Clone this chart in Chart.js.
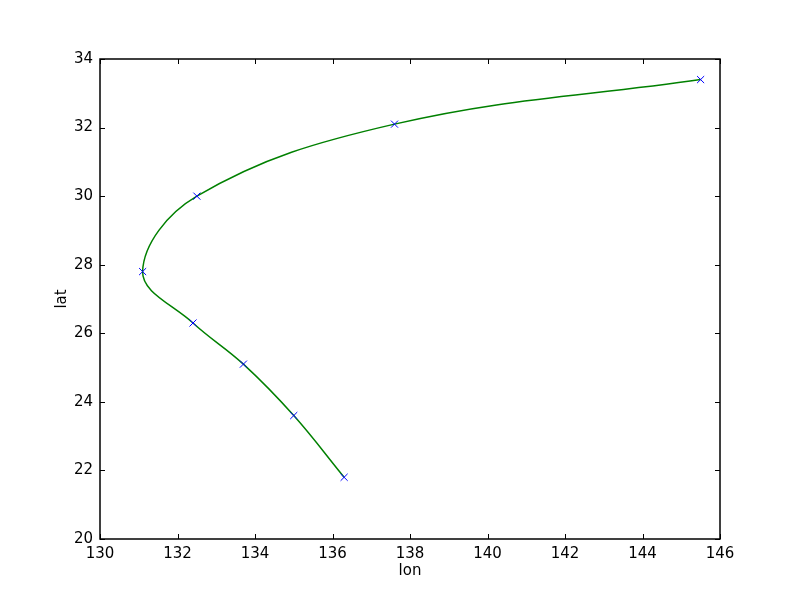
<!DOCTYPE html>
<html lang="en">
<head>
    <meta charset="UTF-8">
    <title>lat / lon track</title>
    <script src="https://cdn.jsdelivr.net/npm/chart.js"></script>
    <style>
        body {
            margin: 0;
            background: #ffffff;
        }
        canvas {
            display: block;
        }
    </style>
</head>
<body>
<canvas id="trackChart" width="800" height="600"></canvas>

<script>
  // track points
  const lon = [136.3, 135.0, 133.7, 132.4, 131.1, 132.5, 137.6, 145.5];
  const lat = [21.8, 23.6, 25.1, 26.3, 27.8, 30.0, 32.1, 33.4];

  const xTicks = [130, 132, 134, 136, 138, 140, 142, 144, 146];
  const yTicks = [20, 22, 24, 26, 28, 30, 32, 34];

  const points = lon.map((x, i) => ({ x: x, y: lat[i] }));
  const font = { family: 'DejaVu Sans', size: 15 };

  // matplotlib style frame with inward ticks on all four sides
  const frameTicks = {
    id: 'frameTicks',
    afterDraw(chart) {
      const ctx = chart.ctx;
      const a = chart.chartArea;
      const xs = chart.scales.x;
      const ys = chart.scales.y;
      const len = 5;
      ctx.save();
      ctx.strokeStyle = '#000000';
      ctx.lineWidth = 1;
      ctx.beginPath();
      xTicks.forEach(v => {
        const px = Math.round(xs.getPixelForValue(v)) + 0.5;
        ctx.moveTo(px, a.bottom);
        ctx.lineTo(px, a.bottom - len);
        ctx.moveTo(px, a.top);
        ctx.lineTo(px, a.top + len);
      });
      yTicks.forEach(v => {
        const py = Math.round(ys.getPixelForValue(v)) + 0.5;
        ctx.moveTo(a.left, py);
        ctx.lineTo(a.left + len, py);
        ctx.moveTo(a.right, py);
        ctx.lineTo(a.right - len, py);
      });
      ctx.stroke();
      ctx.lineWidth = 1.5;
      ctx.strokeRect(a.left, a.top, a.right - a.left, a.bottom - a.top);
      ctx.restore();
    }
  };

  new Chart(document.getElementById('trackChart'), {
    type: 'scatter',
    data: {
      datasets: [{
        label: 'track',
        data: points,
        showLine: true,
        borderColor: '#008000',
        borderWidth: 1.5,
        tension: 0.38,
        pointRadius: 0,
        order: 2
      }, {
        label: 'points',
        data: points,
        showLine: false,
        pointStyle: 'crossRot',
        pointRadius: 5,
        pointBorderColor: '#0000ff',
        pointBorderWidth: 1,
        order: 1
      }]
    },
    options: {
      responsive: false,
      animation: false,
      layout: {
        padding: { top: 59, right: 80, left: 0, bottom: 0 }
      },
      plugins: {
        legend: { display: false },
        tooltip: { enabled: false }
      },
      scales: {
        x: {
          type: 'linear',
          min: 130,
          max: 146,
          afterFit: s => { s.height = 61; },
          afterBuildTicks: s => { s.ticks = xTicks.map(v => ({ value: v })); },
          grid: { display: false, drawTicks: false },
          border: { display: false },
          ticks: { color: '#000000', font: font, padding: 6, maxRotation: 0 },
          title: {
            display: true,
            text: 'lon',
            color: '#000000',
            font: font,
            padding: { top: 0, bottom: 20 }
          }
        },
        y: {
          type: 'linear',
          min: 20,
          max: 34,
          afterFit: s => { s.width = 100; },
          afterBuildTicks: s => { s.ticks = yTicks.map(v => ({ value: v })); },
          grid: { display: false, drawTicks: false },
          border: { display: false },
          ticks: { color: '#000000', font: font, padding: 7 },
          title: {
            display: true,
            text: 'lat',
            color: '#000000',
            font: font,
            padding: { top: 53, bottom: 0 }
          }
        }
      }
    },
    plugins: [frameTicks]
  });
</script>
</body>
</html>
